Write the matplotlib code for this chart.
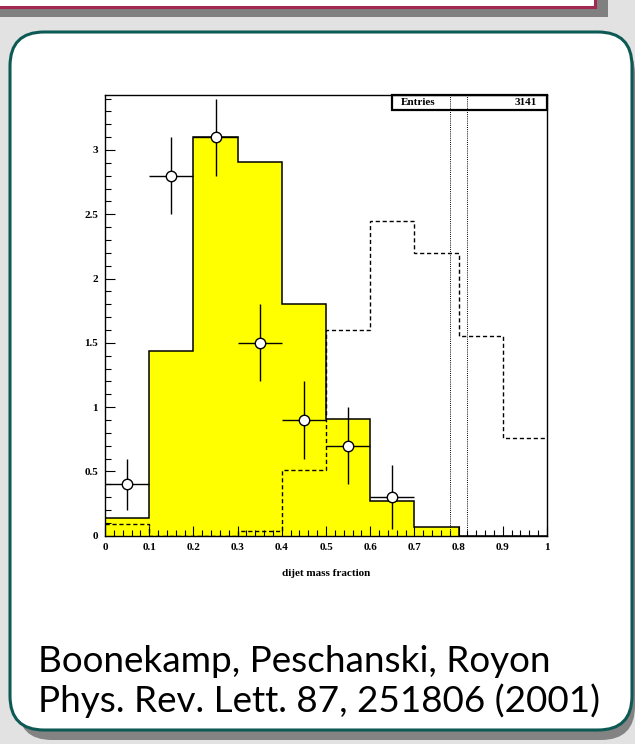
import numpy as np
import matplotlib
matplotlib.use("Agg")
import matplotlib.pyplot as plt
from matplotlib.patches import FancyBboxPatch, Rectangle
from matplotlib.ticker import MultipleLocator

# binning of the dijet mass fraction
bin_edges = [0.0, 0.1, 0.2, 0.3, 0.4, 0.5, 0.6, 0.7, 0.8, 0.9, 1.0]

# filled prediction (yellow) and dashed prediction
filled_hist = [0.14, 1.44, 3.10, 2.91, 1.80, 0.91, 0.27, 0.07, 0.0, 0.0]
dashed_hist = [0.09, 0.0, 0.0, 0.035, 0.51, 1.60, 2.45, 2.20, 1.55, 0.76]

# measured points
data_x = [0.05, 0.15, 0.25, 0.35, 0.45, 0.55, 0.65]
data_y = [0.40, 2.80, 3.10, 1.50, 0.90, 0.70, 0.30]
data_err = [0.20, 0.30, 0.30, 0.30, 0.30, 0.30, 0.25]

cut_lines = [0.78, 0.82]
entries = 3141

x_ticks = [0, 0.1, 0.2, 0.3, 0.4, 0.5, 0.6, 0.7, 0.8, 0.9, 1]
x_ticklabels = ["0", "0.1", "0.2", "0.3", "0.4", "0.5", "0.6", "0.7", "0.8", "0.9", "1"]
y_ticks = [0, 0.5, 1, 1.5, 2, 2.5, 3]
y_ticklabels = ["0", "0.5", "1", "1.5", "2", "2.5", "3"]

ref_lines = ["Boonekamp, Peschanski, Royon", "Phys. Rev. Lett. 87, 251806 (2001)"]

W, H = 635, 744
fig = plt.figure(figsize=(W / 100, H / 100), dpi=100)

# slide background in pixel coordinates
bg = fig.add_axes([0, 0, 1, 1])
bg.set_xlim(0, W)
bg.set_ylim(H, 0)
bg.axis("off")
bg.add_patch(Rectangle((0, 0), W, H, facecolor="#e2e2e2", edgecolor="none", zorder=0))

# bottom of the title box above
bg.add_patch(Rectangle((-20, -20), 628, 37, facecolor="#808080", edgecolor="none", zorder=1))
bg.add_patch(Rectangle((-20, -20), 615, 27, facecolor="white", edgecolor="#a3284f",
                       linewidth=2.2, zorder=2))

# card with its shadow
bg.add_patch(FancyBboxPatch((18, 40), 617, 700, boxstyle="round,pad=0,rounding_size=34",
                            facecolor="#838383", edgecolor="none", zorder=1))
bg.add_patch(FancyBboxPatch((10, 32), 622, 698, boxstyle="round,pad=0,rounding_size=34",
                            facecolor="white", edgecolor="#0d5954", linewidth=2.2, zorder=2))

for i, line in enumerate(ref_lines):
    bg.text(38, 672 + 40 * i, line, fontsize=26.6, family="Lato", color="black",
            ha="left", va="baseline", zorder=3)

# histogram panel
ax = fig.add_axes([105 / W, 1 - 535.7 / H, 442 / W, 441 / H])
ax.set_xlim(0, 1)
ax.set_ylim(0, 3.43)

ax.stairs(filled_hist, bin_edges, fill=True, facecolor="#ffff00", edgecolor="none", zorder=1)
ax.stairs(filled_hist, bin_edges, baseline=0, color="black", linewidth=1.1, zorder=2)
ax.stairs(dashed_hist, bin_edges, baseline=None, color="black", linewidth=1.0,
          linestyle=(0, (3, 2)), zorder=3)

for xc in cut_lines:
    ax.axvline(xc, color="black", linewidth=0.7, linestyle=(0, (1, 1.2)), zorder=5)

ax.errorbar(data_x, data_y, yerr=data_err, xerr=0.05, fmt="o", color="black",
            markerfacecolor="white", markeredgecolor="black", markersize=7.5,
            markeredgewidth=1.0, elinewidth=1.0, capsize=0, zorder=6)

# statistics box
ax.add_patch(Rectangle((0.649, 0.9646), 0.351, 0.0354, transform=ax.transAxes,
                       facecolor="white", edgecolor="black", linewidth=1.6,
                       zorder=4, clip_on=False))
ax.text(0.669, 0.982, "Entries", transform=ax.transAxes, fontsize=8,
        family="Liberation Serif", weight="bold", ha="left", va="center", zorder=7)
ax.text(0.977, 0.982, str(entries), transform=ax.transAxes, fontsize=8,
        family="Liberation Serif", weight="bold", ha="right", va="center", zorder=7)

ax.set_xticks(x_ticks)
ax.set_xticklabels(x_ticklabels)
ax.set_yticks(y_ticks)
ax.set_yticklabels(y_ticklabels)
ax.xaxis.set_minor_locator(MultipleLocator(0.02))
ax.yaxis.set_minor_locator(MultipleLocator(0.1))
ax.tick_params(which="both", direction="in", top=False, right=False, width=0.8)
ax.tick_params(which="major", length=7, pad=5)
ax.tick_params(which="minor", length=4)
for lab in ax.get_xticklabels() + ax.get_yticklabels():
    lab.set_family("Liberation Serif")
    lab.set_weight("bold")
    lab.set_fontsize(8)
for sp in ax.spines.values():
    sp.set_linewidth(1.0)
    sp.set_zorder(8)

ax.text(0.5, -0.085, "dijet mass fraction", transform=ax.transAxes, fontsize=8,
        family="Liberation Serif", weight="bold", ha="center", va="center")

fig.savefig("out.png", dpi=100)
